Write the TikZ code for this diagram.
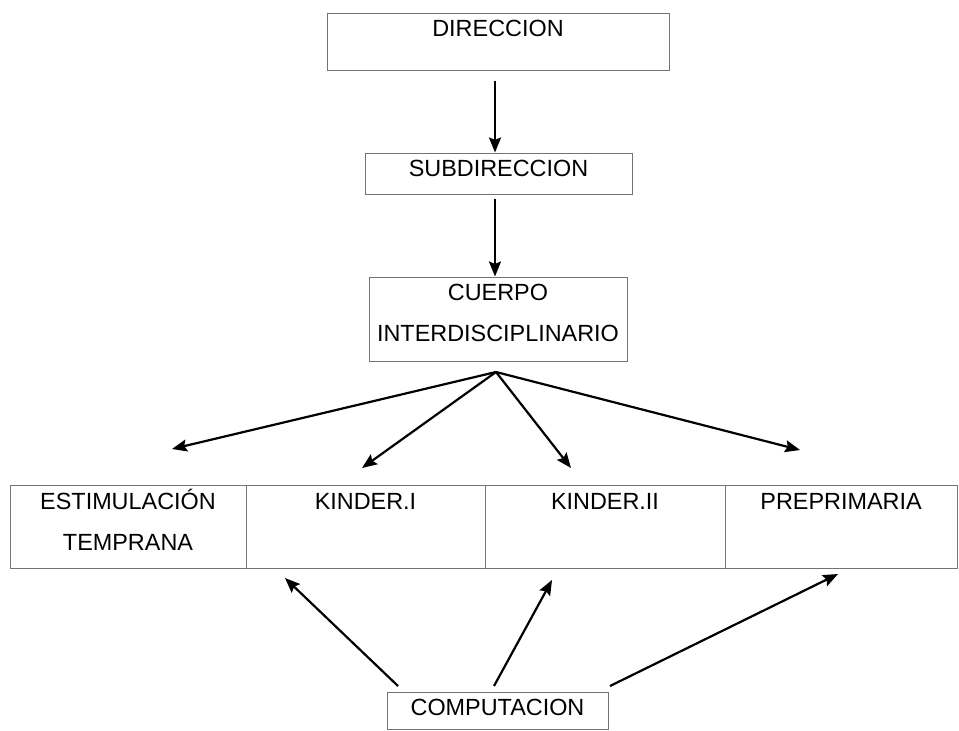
\documentclass[tikz,border=0pt]{standalone}
\usepackage{fontspec}
\setmainfont{Liberation Sans}
\usetikzlibrary{arrows.meta}

\tikzset{
  box/.style={draw=black!55, line width=0.5pt, inner sep=0pt, align=center,
    font=\fontsize{11.7}{20.5}\selectfont},
  link/.style={line width=1.1pt, -{Stealth[length=7.5pt, width=6pt, inset=1.2pt]}}
}

\begin{document}
\begin{tikzpicture}[x=0.5pt, y=-0.5pt]
    \useasboundingbox (0, 0) rectangle (959, 730);

    % 1. chain at the top
    \node[box, text width=171pt, text height=11.75pt, text depth=16.75pt] (dir) at (498, 41.5) {DIRECCION};
    \node[box, text width=133.5pt, text height=11.85pt, text depth=8.65pt] (sub) at (498.5, 173.5) {SUBDIRECCION};
    \node[box, text width=129pt, text height=11.85pt, text depth=30.15pt] (cue) at (498, 319) {CUERPO\\INTERDISCIPLINARIO};

    \draw[link, shorten <=5pt] (dir.south -| 495, 0) -- (sub.north -| 495, 0);
    \draw[link, shorten <=2pt] (sub.south -| 495, 0) -- (cue.north -| 495, 0);

    % 2. the four groups
    \foreach \name/\x/\w/\txt in {est/128/118/{ESTIMULACIÓN\\TEMPRANA}, kiA/365.5/119.5/{KINDER.I},
                                  kiB/605/120/{KINDER.II}, pre/841/116/{PREPRIMARIA}} {
      \node[box, text width=\w pt, text height=12.15pt, text depth=29.35pt] (\name) at (\x, 526.5) {\txt};
    }

    \coordinate (hub) at (496, 372);
    \coordinate (toEst) at (172, 449);
    \coordinate (toKiA) at (362, 468);
    \coordinate (toKiB) at (571, 468);
    \coordinate (toPre) at (800, 450);
    \foreach \t in {toEst, toKiA, toKiB, toPre} {
      \draw[link] (hub) -- (\t);
    }

    % 3. computacion
    \node[box, text width=110.5pt, text height=11.5pt, text depth=7pt] (comp) at (497.5, 710.5) {COMPUTACION};

    \coordinate (fromA) at (398, 686);
    \coordinate (fromB) at (494, 686);
    \coordinate (fromC) at (610, 686);
    \coordinate (upA) at (285, 578);
    \coordinate (upB) at (552, 580);
    \coordinate (upC) at (838, 574);
    \draw[link] (fromA) -- (upA);
    \draw[link] (fromB) -- (upB);
    \draw[link] (fromC) -- (upC);
  \end{tikzpicture}
\end{document}
